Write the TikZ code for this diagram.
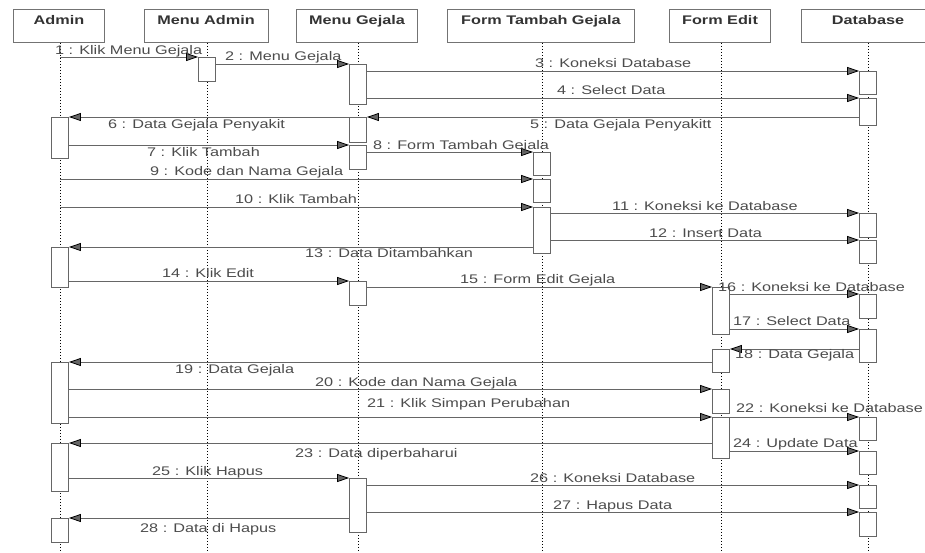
\documentclass[tikz,border=0pt]{standalone}
\usepackage{fontspec}
\setmainfont{Liberation Sans}[FakeStretch=1.3]
\usetikzlibrary{arrows.meta}
\tikzset{
	head/.style={rectangle, draw=black!55, line width=0.8pt, anchor=north, minimum height=33pt, inner ysep=6pt, text height=9pt, text depth=12pt, font=\fontsize{12.5}{15}\selectfont\bfseries, text=black!80}, % the boxes on top of the lifelines
	life/.style={black, line width=0.8pt, dash pattern=on 1.4pt off 1.6pt},
	act/.style={rectangle, draw=black!60, fill=white, line width=0.9pt, anchor=north, minimum width=17pt, inner sep=0pt}, % activation bar, height given per box
	msg/.style={color=black!60, line width=0.8pt, -{Triangle[length=12pt,width=8pt,black]}},
	lbl/.style={anchor=base west, inner sep=0pt, text=black!70}
}
\begin{document}
\begin{tikzpicture}[x=1pt, y=-1pt, font=\fontsize{12.5}{15}\selectfont]
            \useasboundingbox (0,0) rectangle (925,552);
            % lifelines
            \node[head, minimum width=91pt] (admin) at (59,9) {Admin};
            \node[head, minimum width=124pt] (madmin) at (206,9) {Menu Admin};
            \node[head, minimum width=121pt] (mgejala) at (357,9) {Menu Gejala};
            \node[head, minimum width=187pt] (ftambah) at (541,9) {Form Tambah Gejala};
            \node[head, minimum width=101pt] (fedit) at (720,9) {Form Edit};
            \node[head, minimum width=134pt] (db) at (868,9) {Database};
            \coordinate (adminend) at (60,552);
            \coordinate (madminend) at (207,552);
            \coordinate (mgejalaend) at (358,552);
            \coordinate (ftambahend) at (542,552);
            \coordinate (feditend) at (721,552);
            \coordinate (dbend) at (868,552);
            \draw[life] (admin.south -| adminend) -- (adminend);
            \draw[life] (madmin.south -| madminend) -- (madminend);
            \draw[life] (mgejala.south -| mgejalaend) -- (mgejalaend);
            \draw[life] (ftambah.south -| ftambahend) -- (ftambahend);
            \draw[life] (fedit.south -| feditend) -- (feditend);
            \draw[life] (db.south -| dbend) -- (dbend);
            % activation bars
            \node[act, minimum height=41pt] (a1) at (60,117) {};
            \node[act, minimum height=40pt] (a2) at (60,247) {};
            \node[act, minimum height=61pt] (a3) at (60,362) {};
            \node[act, minimum height=48pt] (a4) at (60,443) {};
            \node[act, minimum height=24pt] (a5) at (60,518) {};
            \node[act, minimum height=24pt] (m1) at (207,57) {};
            \node[act, minimum height=40pt] (g1) at (358,64) {};
            \node[act, minimum height=25pt] (g2) at (358,117) {};
            \node[act, minimum height=24pt] (g3) at (358,145) {};
            \node[act, minimum height=24pt] (g4) at (358,281) {};
            \node[act, minimum height=54pt] (g5) at (358,478) {};
            \node[act, minimum height=23pt] (t1) at (542,152) {};
            \node[act, minimum height=23pt] (t2) at (542,179) {};
            \node[act, minimum height=46pt] (t3) at (542,207) {};
            \node[act, minimum height=47pt] (e1) at (721,287) {};
            \node[act, minimum height=23pt] (e2) at (721,349) {};
            \node[act, minimum height=24pt] (e3) at (721,389) {};
            \node[act, minimum height=41pt] (e4) at (721,417) {};
            \node[act, minimum height=23pt] (d1) at (868,71) {};
            \node[act, minimum height=27pt] (d2) at (868,98) {};
            \node[act, minimum height=24pt] (d3) at (868,213) {};
            \node[act, minimum height=23pt] (d4) at (868,240) {};
            \node[act, minimum height=24pt] (d5) at (868,294) {};
            \node[act, minimum height=33pt] (d6) at (868,329) {};
            \node[act, minimum height=23pt] (d7) at (868,417) {};
            \node[act, minimum height=23pt] (d8) at (868,451) {};
            \node[act, minimum height=23pt] (d9) at (868,485) {};
            \node[act, minimum height=24pt] (d10) at (868,512) {};
            % messages
            \path[msg]
                (adminend |- m1.north) edge (m1.north west)
                (m1.east |- g1.north) edge (g1.north west)
                (g1.east |- d1.north) edge (d1.north west)
                (g1.east |- d2.north) edge (d2.north west)
                (d2.west |- g2.north) edge (g2.north east)
                (g2.north west) edge (a1.north east)
                (a1.east |- g3.north) edge (g3.north west)
                (g3.east |- t1.north) edge (t1.north west)
                (adminend |- t2.north) edge (t2.north west)
                (adminend |- t3.north) edge (t3.north west)
                (t3.east |- d3.north) edge (d3.north west)
                (t3.east |- d4.north) edge (d4.north west)
                (t3.west |- a2.north) edge (a2.north east)
                (a2.east |- g4.north) edge (g4.north west)
                (g4.east |- e1.north) edge (e1.north west)
                (e1.east |- d5.north) edge (d5.north west)
                (e1.east |- d6.north) edge (d6.north west)
                (d6.west |- e2.north) edge (e2.north east)
                (e2.west |- a3.north) edge (a3.north east)
                (a3.east |- e3.north) edge (e3.north west)
                (a3.east |- e4.north) edge (e4.north west)
                (e4.east |- d7.north) edge (d7.north west)
                (e4.west |- a4.north) edge (a4.north east)
                (e4.east |- d8.north) edge (d8.north west)
                (a4.east |- g5.north) edge (g5.north west)
                (g5.east |- d9.north) edge (d9.north west)
                (g5.east |- d10.north) edge (d10.north west)
                (g5.west |- a5.north) edge (a5.north east);
            % message texts
            \node[lbl] (l1) at (55,54) {1 : Klik Menu Gejala};
            \node[lbl] (l2) at (225,60) {2 : Menu Gejala};
            \node[lbl] (l3) at (535,67) {3 : Koneksi Database};
            \node[lbl] (l4) at (557,94) {4 : Select Data};
            \node[lbl] (l5) at (530,128) {5 : Data Gejala Penyakitt};
            \node[lbl] (l6) at (108,128) {6 : Data Gejala Penyakit};
            \node[lbl] (l7) at (147,156) {7 : Klik Tambah};
            \node[lbl] (l8) at (373,149) {8 : Form Tambah Gejala};
            \node[lbl] (l9) at (150,175) {9 : Kode dan Nama Gejala};
            \node[lbl] (l10) at (235,203) {10 : Klik Tambah};
            \node[lbl] (l11) at (612,210) {11 : Koneksi ke Database};
            \node[lbl] (l12) at (649,237) {12 : Insert Data};
            \node[lbl] (l13) at (305,257) {13 : Data Ditambahkan};
            \node[lbl] (l14) at (162,277) {14 : Klik Edit};
            \node[lbl] (l15) at (460,283) {15 : Form Edit Gejala};
            \node[lbl] (l16) at (718,291) {16 : Koneksi ke Database};
            \node[lbl] (l17) at (733,325) {17 : Select Data};
            \node[lbl] (l18) at (735,358) {18 : Data Gejala};
            \node[lbl] (l19) at (175,373) {19 : Data Gejala};
            \node[lbl] (l20) at (315,386) {20 : Kode dan Nama Gejala};
            \node[lbl] (l21) at (367,407) {21 : Klik Simpan Perubahan};
            \node[lbl] (l22) at (736,412) {22 : Koneksi ke Database};
            \node[lbl] (l23) at (295,457) {23 : Data diperbaharui};
            \node[lbl] (l24) at (733,447) {24 : Update Data};
            \node[lbl] (l25) at (152,475) {25 : Klik Hapus};
            \node[lbl] (l26) at (530,482) {26 : Koneksi Database};
            \node[lbl] (l27) at (553,509) {27 : Hapus Data};
            \node[lbl] (l28) at (140,532) {28 : Data di Hapus};
        \end{tikzpicture}
\end{document}
